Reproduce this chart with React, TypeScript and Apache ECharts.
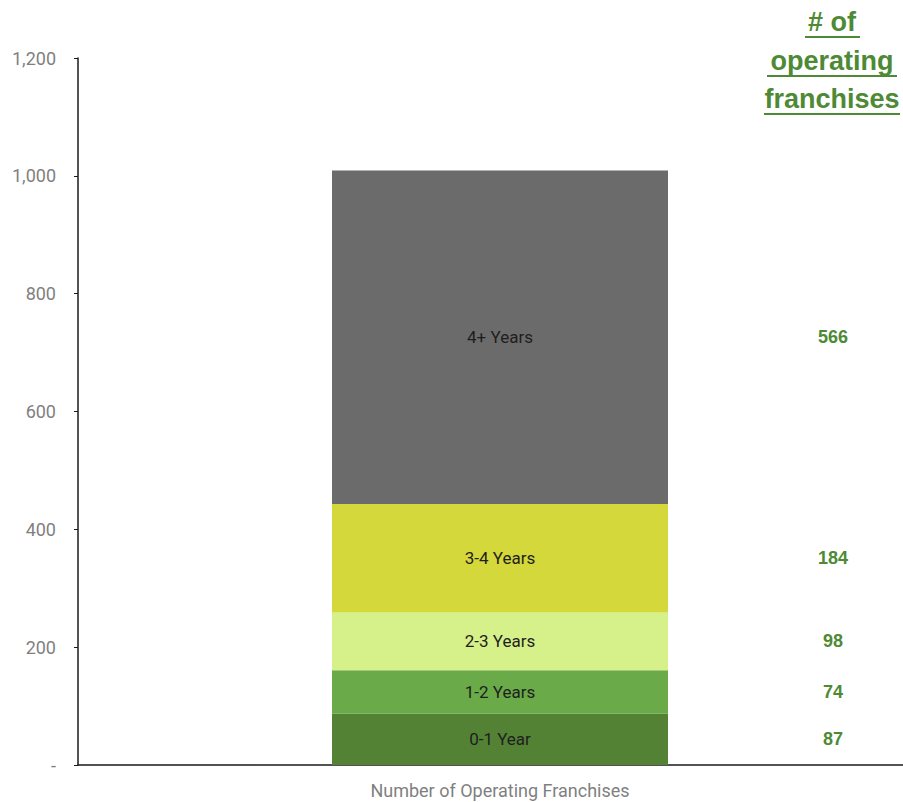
import React, { useEffect, useRef } from "react";
import * as echarts from "echarts";

const category = ["Number of Operating Franchises"];
const segmentNames = ["0-1 Year", "1-2 Years", "2-3 Years", "3-4 Years", "4+ Years"];
const segmentValues = [87, 74, 98, 184, 566];
const segmentColors = ["#548235", "#6aaa48", "#d6f08a", "#d4d83a", "#6b6b6b"];
const yTicks = [0, 200, 400, 600, 800, 1000, 1200];
const titleLines = ["# of", "operating", "franchises"];

export default function App() {
  const ref = useRef<HTMLDivElement>(null);
  useEffect(() => {
    if (!ref.current) return;
    const chart = echarts.init(ref.current, null, { renderer: "svg" });
    const green = "#4e8a35";
    const fontFamily = "Roboto, 'Liberation Sans', sans-serif";

    const nameSeries = segmentNames.map((n, i) => ({
      name: n,
      type: "bar",
      stack: "a",
      barWidth: 336,
      barGap: "-100%",
      data: [segmentValues[i]],
      itemStyle: { color: segmentColors[i] },
      label: {
        show: true,
        position: "inside",
        formatter: n,
        color: "#1e1e1e",
        fontSize: 17,
        fontFamily,
      },
    }));
    const valueSeries = segmentNames.map((n, i) => ({
      name: n + " value",
      type: "bar",
      stack: "b",
      barWidth: 336,
      barGap: "-100%",
      data: [segmentValues[i]],
      itemStyle: { color: "rgba(0,0,0,0)" },
      silent: true,
      label: {
        show: true,
        position: "inside",
        offset: [333, 0],
        formatter: String(segmentValues[i]),
        color: green,
        fontSize: 18,
        fontWeight: "bold",
        fontFamily: "'Liberation Sans', sans-serif",
      },
    }));

    const titleGraphics: any[] = [];
    const lineY = [22, 61, 99];
    titleLines.forEach((t, i) => {
      titleGraphics.push({
        type: "text",
        x: 832,
        y: lineY[i],
        style: {
          text: t,
          fill: green,
          font: "bold 27px 'Liberation Sans', sans-serif",
          textAlign: "center",
          textVerticalAlign: "middle",
        },
      });
    });
    const underlines = [
      [805, 860, 37],
      [767, 897, 76],
      [764, 900, 114],
    ];
    underlines.forEach(([x1, x2, y]) => {
      titleGraphics.push({
        type: "line",
        shape: { x1, y1: y, x2, y2: y },
        style: { stroke: green, lineWidth: 2 },
      });
    });

    chart.setOption({
      animation: false,
      backgroundColor: "#ffffff",
      grid: { left: 78, right: 0, top: 58, bottom: 37, containLabel: false },
      xAxis: {
        type: "category",
        data: category,
        axisLine: { lineStyle: { color: "#1a1a1a", width: 1.5 } },
        axisTick: { show: false },
        axisLabel: { color: "#7f7f7f", fontSize: 18, margin: 16, fontFamily },
      },
      yAxis: {
        type: "value",
        min: yTicks[0],
        max: yTicks[yTicks.length - 1],
        interval: 200,
        splitLine: { show: false },
        axisLine: { show: true, lineStyle: { color: "#1a1a1a", width: 1.5 } },
        axisTick: { show: true, length: 4, lineStyle: { color: "#1a1a1a" } },
        axisLabel: {
          color: "#7f7f7f",
          fontSize: 18,
          margin: 22,
          fontFamily,
          formatter: (v: number) => (v === 0 ? "-" : v.toLocaleString("en-US")),
        },
      },
      graphic: titleGraphics,
      series: [...nameSeries, ...valueSeries],
    });
    return () => chart.dispose();
  }, []);
  return (
    <div
      style={{
        position: "absolute",
        left: 0,
        top: 0,
        width: 903,
        height: 802,
        overflow: "hidden",
      }}
    >
      <div ref={ref} style={{ width: 922, height: 802 }} />
    </div>
  );
}
